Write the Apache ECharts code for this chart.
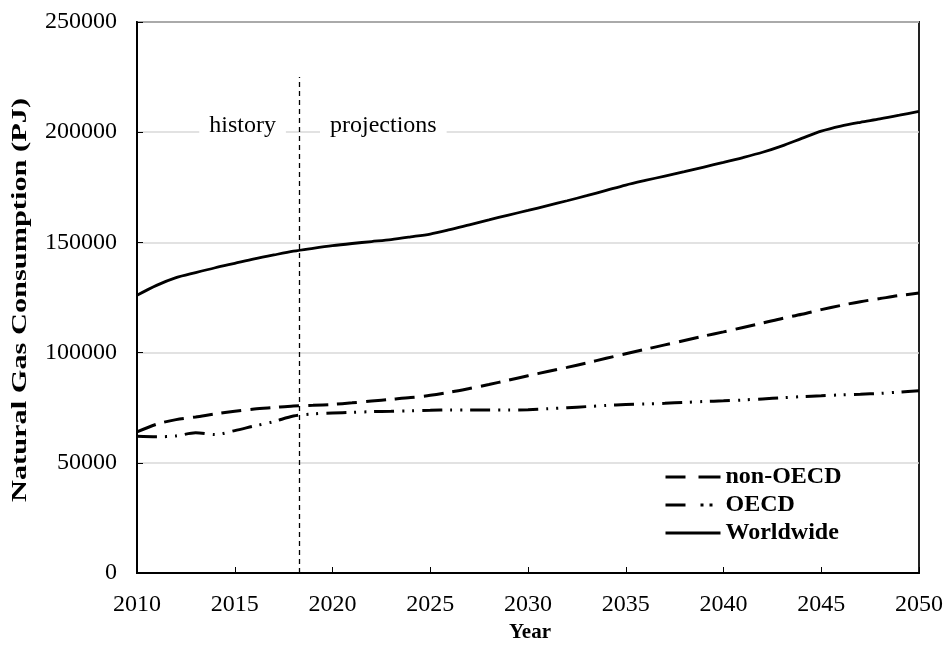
<!DOCTYPE html>
<html>
<head>
<meta charset="utf-8">
<script src="https://cdn.jsdelivr.net/npm/echarts@6/dist/echarts.min.js"></script>
<style>html,body{margin:0;padding:0;background:#fff}#chart{width:946px;height:648px}</style>
</head>
<body>
<div id="chart"></div>
<script>
var years = [2010,2011,2012,2013,2014,2015,2016,2017,2018,2019,2020,2021,2022,2023,2024,2025,2026,2027,2028,2029,2030,2031,2032,2033,2034,2035,2036,2037,2038,2039,2040,2041,2042,2043,2044,2045,2046,2047,2048,2049,2050];
var worldwide = [126000,130500,134000,136300,138500,140500,142500,144300,146000,147300,148500,149500,150400,151300,152500,153800,155800,158000,160200,162400,164500,166700,168900,171200,173600,176000,178100,180100,182100,184200,186300,188500,190900,193800,197200,200500,202800,204500,206000,207700,209500];
var nonOECD = [64000,67500,69600,70800,72200,73400,74400,75100,75800,76100,76500,77200,78000,78800,79600,80600,82000,83700,85500,87500,89500,91400,93300,95300,97400,99500,101500,103500,105500,107500,109400,111400,113400,115500,117400,119500,121400,123100,124500,125900,127000];
var OECD = [62000,61800,62200,63600,62800,64600,66700,68700,71200,72200,72600,72900,73200,73400,73600,73800,74000,74000,73900,73900,74100,74500,75000,75500,76000,76400,76700,77000,77400,77800,78100,78500,79000,79500,80000,80400,80800,81100,81500,82100,82700];
var seriesNames = ['non-OECD','OECD','Worldwide'];
var divider = {year: 2018.3, top: 225000};
var annotations = [{text:'history', year:2015.4, value:203000},{text:'projections', year:2022.6, value:203000}];
var yTicks = [0,50000,100000,150000,200000,250000];
var yTitle = 'Natural Gas Consumption (PJ)';
var xTitle = 'Year';

function pairs(v){ return years.map(function(y,i){ return [y, v[i]]; }); }

var font = '"Liberation Serif","Times New Roman",serif';
var chart = echarts.init(document.getElementById('chart'));
chart.setOption({
  animation:false,
  backgroundColor:'#fff',
  textStyle:{fontFamily:font},
  grid:{left:137,right:27,top:22,bottom:72,show:true,borderColor:'#222',borderWidth:2},
  legend:{
    orient:'vertical', left:659, top:460, itemWidth:55, itemHeight:14, itemGap:4,
    data:[
      {name:seriesNames[0], lineStyle:{type:[20,13,22,10],width:3}},
      {name:seriesNames[1], lineStyle:{type:[20,15,3,6,3,30],width:3}},
      {name:seriesNames[2], lineStyle:{width:3}}
    ],
    itemStyle:{opacity:0},
    textStyle:{fontFamily:font,fontWeight:'bold',fontSize:24,color:'#000',padding:[0,0,0,0]}
  },
  graphic:[{
    type:'text', x:20, y:300, rotation:Math.PI/2, scaleX:1.38, scaleY:1,
    style:{text:yTitle, fontFamily:font, fontWeight:'bold', fontSize:22, fill:'#000', align:'center', verticalAlign:'middle'}
  }],
  xAxis:{
    type:'value', min:2010, max:2050, interval:5,
    name:xTitle, nameLocation:'middle', nameGap:49,
    nameTextStyle:{fontFamily:font,fontWeight:'bold',fontSize:21,color:'#000',padding:[0,0,0,4]},
    axisLine:{show:true,onZero:false,lineStyle:{color:'#000',width:2}},
    axisTick:{show:true,inside:true,length:6,lineStyle:{color:'#000',width:1}},
    axisLabel:{fontFamily:font,fontSize:24,color:'#000',margin:20,formatter:function(v){return String(v);}},
    splitLine:{show:false}
  },
  yAxis:{
    type:'value', min:yTicks[0], max:yTicks[yTicks.length-1], interval:50000,
    axisLine:{show:true,lineStyle:{color:'#000',width:2}},
    axisTick:{show:true,inside:true,length:6,lineStyle:{color:'#000',width:1}},
    axisLabel:{fontFamily:font,fontSize:24,color:'#000',margin:20,formatter:function(v){return String(v);}},
    splitLine:{show:true,lineStyle:{color:'#d9d9d9',width:1.5}}
  },
  series:[
    {
      name:'non-OECD', type:'line', data:pairs(nonOECD), showSymbol:false, symbol:'none', smooth:0.3,
      lineStyle:{color:'#000',width:3,type:[20,9]}, itemStyle:{color:'#000'}, z:3
    },
    {
      name:'OECD', type:'line', data:pairs(OECD), showSymbol:false, symbol:'none', smooth:0.3,
      lineStyle:{color:'#000',width:3,type:[20,8,2,8,2,8]}, itemStyle:{color:'#000'}, z:3
    },
    {
      name:'Worldwide', type:'line', data:pairs(worldwide), showSymbol:false, symbol:'none', smooth:0.3,
      lineStyle:{color:'#000',width:2.8,type:'solid'}, itemStyle:{color:'#000'}, z:3,
      markLine:{
        silent:true, symbol:['none','none'], label:{show:false},
        lineStyle:{color:'#000',width:1.3,type:[5,4]},
        data:[[{coord:[divider.year,0]},{coord:[divider.year,divider.top]}]]
      },
      markPoint:{
        silent:true, symbol:'rect', symbolSize:0,
        label:{show:true,position:'inside',fontFamily:font,fontSize:24,color:'#000',fontWeight:'normal',
          backgroundColor:'#fff',padding:[0,10,0,10],formatter:function(p){return p.name;}},
        data:annotations.map(function(a){return {name:a.text,coord:[a.year,a.value]};})
      }
    }
  ]
});
</script>
</body>
</html>
